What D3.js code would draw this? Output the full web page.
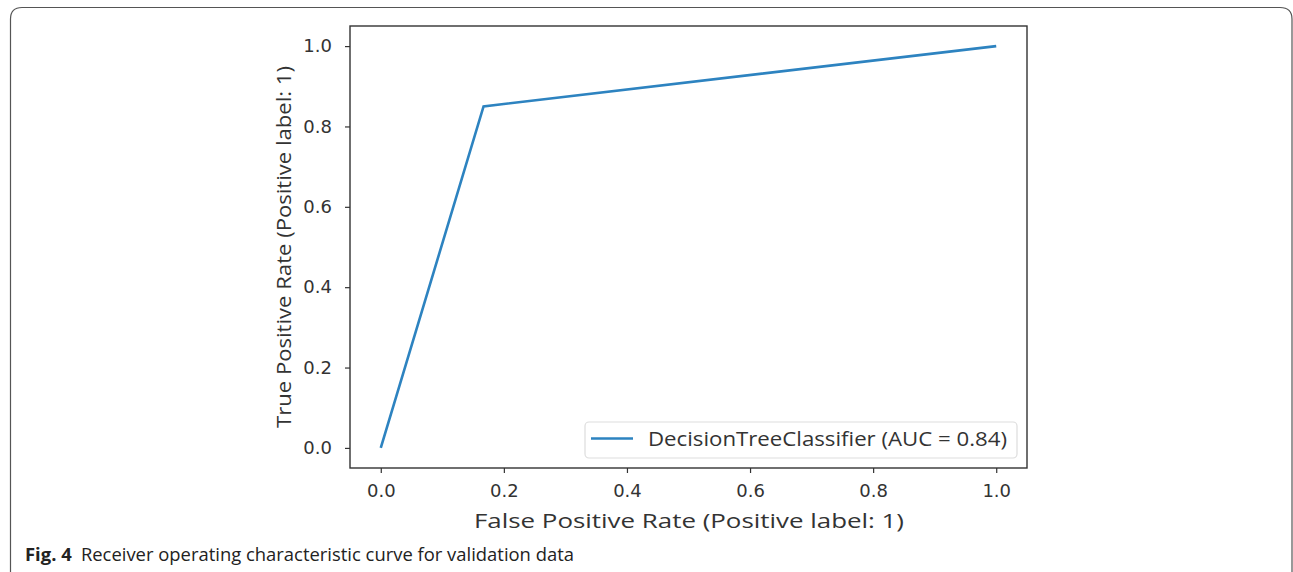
<!DOCTYPE html>
<html><head><meta charset="utf-8">
<script src="https://cdn.jsdelivr.net/npm/d3@7"></script>
<style>html,body{margin:0;padding:0;background:#fff;}</style>
</head><body>
<svg id="c" width="1293" height="572"></svg>
<script>
const fpr = [0, 0.167, 1];
const tpr = [0, 0.85, 1];
const xTicks = [0, 0.2, 0.4, 0.6, 0.8, 1.0];
const yTicks = [0, 0.2, 0.4, 0.6, 0.8, 1.0];
const seriesName = "DecisionTreeClassifier (AUC = 0.84)";
const xLabel = "False Positive Rate (Positive label: 1)";
const yLabel = "True Positive Rate (Positive label: 1)";
const captionBold = "Fig. 4";
const captionText = "Receiver operating characteristic curve for validation data";

const svg = d3.select("#c");
svg.append("path")
  .attr("d", "M10.5,580 L10.5,19 Q10.5,7.5 22,7.5 L1280,7.5 Q1292,7.5 1292,19 L1292,580")
  .attr("fill","none").attr("stroke","#555").attr("stroke-width",1.2);

const L=350, R=1027, T=26, B=468;
const x = d3.scaleLinear().domain([-0.05,1.05]).range([L,R]);
const y = d3.scaleLinear().domain([-0.05,1.05]).range([B,T]);

const tickFont = "'DejaVu Sans', sans-serif";
const xa = svg.append("g").attr("transform",`translate(0,${B})`)
  .call(d3.axisBottom(x).tickValues(xTicks).tickFormat(d3.format(".1f")).tickSize(5).tickPadding(11));
const ya = svg.append("g").attr("transform",`translate(${L},0)`)
  .call(d3.axisLeft(y).tickValues(yTicks).tickFormat(d3.format(".1f")).tickSize(5).tickPadding(13));
[xa,ya].forEach(a=>{
  a.select(".domain").remove();
  a.selectAll("line").attr("stroke","#333").attr("stroke-width",1.2);
  a.selectAll("text").attr("font-family",tickFont).attr("font-size",18).attr("fill","#333");
});
svg.append("rect").attr("x",L).attr("y",T).attr("width",R-L).attr("height",B-T)
  .attr("fill","none").attr("stroke","#333").attr("stroke-width",1.4);

const line = d3.line().x((d,i)=>x(fpr[i])).y((d,i)=>y(tpr[i]));
svg.append("path").datum(fpr).attr("d",line).attr("fill","none")
  .attr("stroke","#2d83c0").attr("stroke-width",2.6).attr("stroke-linejoin","miter");

const labFont = "'Open Sans', sans-serif";
const lg = svg.append("g");
lg.append("rect").attr("x",585).attr("y",422).attr("width",432).attr("height",36).attr("rx",4)
  .attr("fill","#fff").attr("stroke","#ddd").attr("stroke-width",1.2);
lg.append("line").attr("x1",591).attr("x2",633).attr("y1",438.5).attr("y2",438.5)
  .attr("stroke","#2d83c0").attr("stroke-width",2.6);
lg.append("text").attr("x",648).attr("y",446).text(seriesName)
  .attr("font-family",labFont).attr("font-size",19.5).attr("fill","#333")
  .attr("textLength",359).attr("lengthAdjust","spacingAndGlyphs");

svg.append("text").attr("x",689).attr("y",528).attr("text-anchor","middle").text(xLabel)
  .attr("font-family",labFont).attr("font-size",20).attr("fill","#333")
  .attr("textLength",430).attr("lengthAdjust","spacingAndGlyphs");
svg.append("text").attr("transform",`translate(291,247) rotate(-90)`).attr("text-anchor","middle").text(yLabel)
  .attr("font-family",labFont).attr("font-size",20).attr("fill","#333")
  .attr("textLength",362).attr("lengthAdjust","spacingAndGlyphs");

const cap = svg.append("text").attr("x",25).attr("y",561)
  .attr("font-family",labFont).attr("font-size",17.5).attr("fill","#222")
  .attr("textLength",549).attr("lengthAdjust","spacingAndGlyphs");
cap.append("tspan").attr("font-weight","bold").text(captionBold);
cap.append("tspan").text("\u2002" + captionText);
</script>
</body></html>
